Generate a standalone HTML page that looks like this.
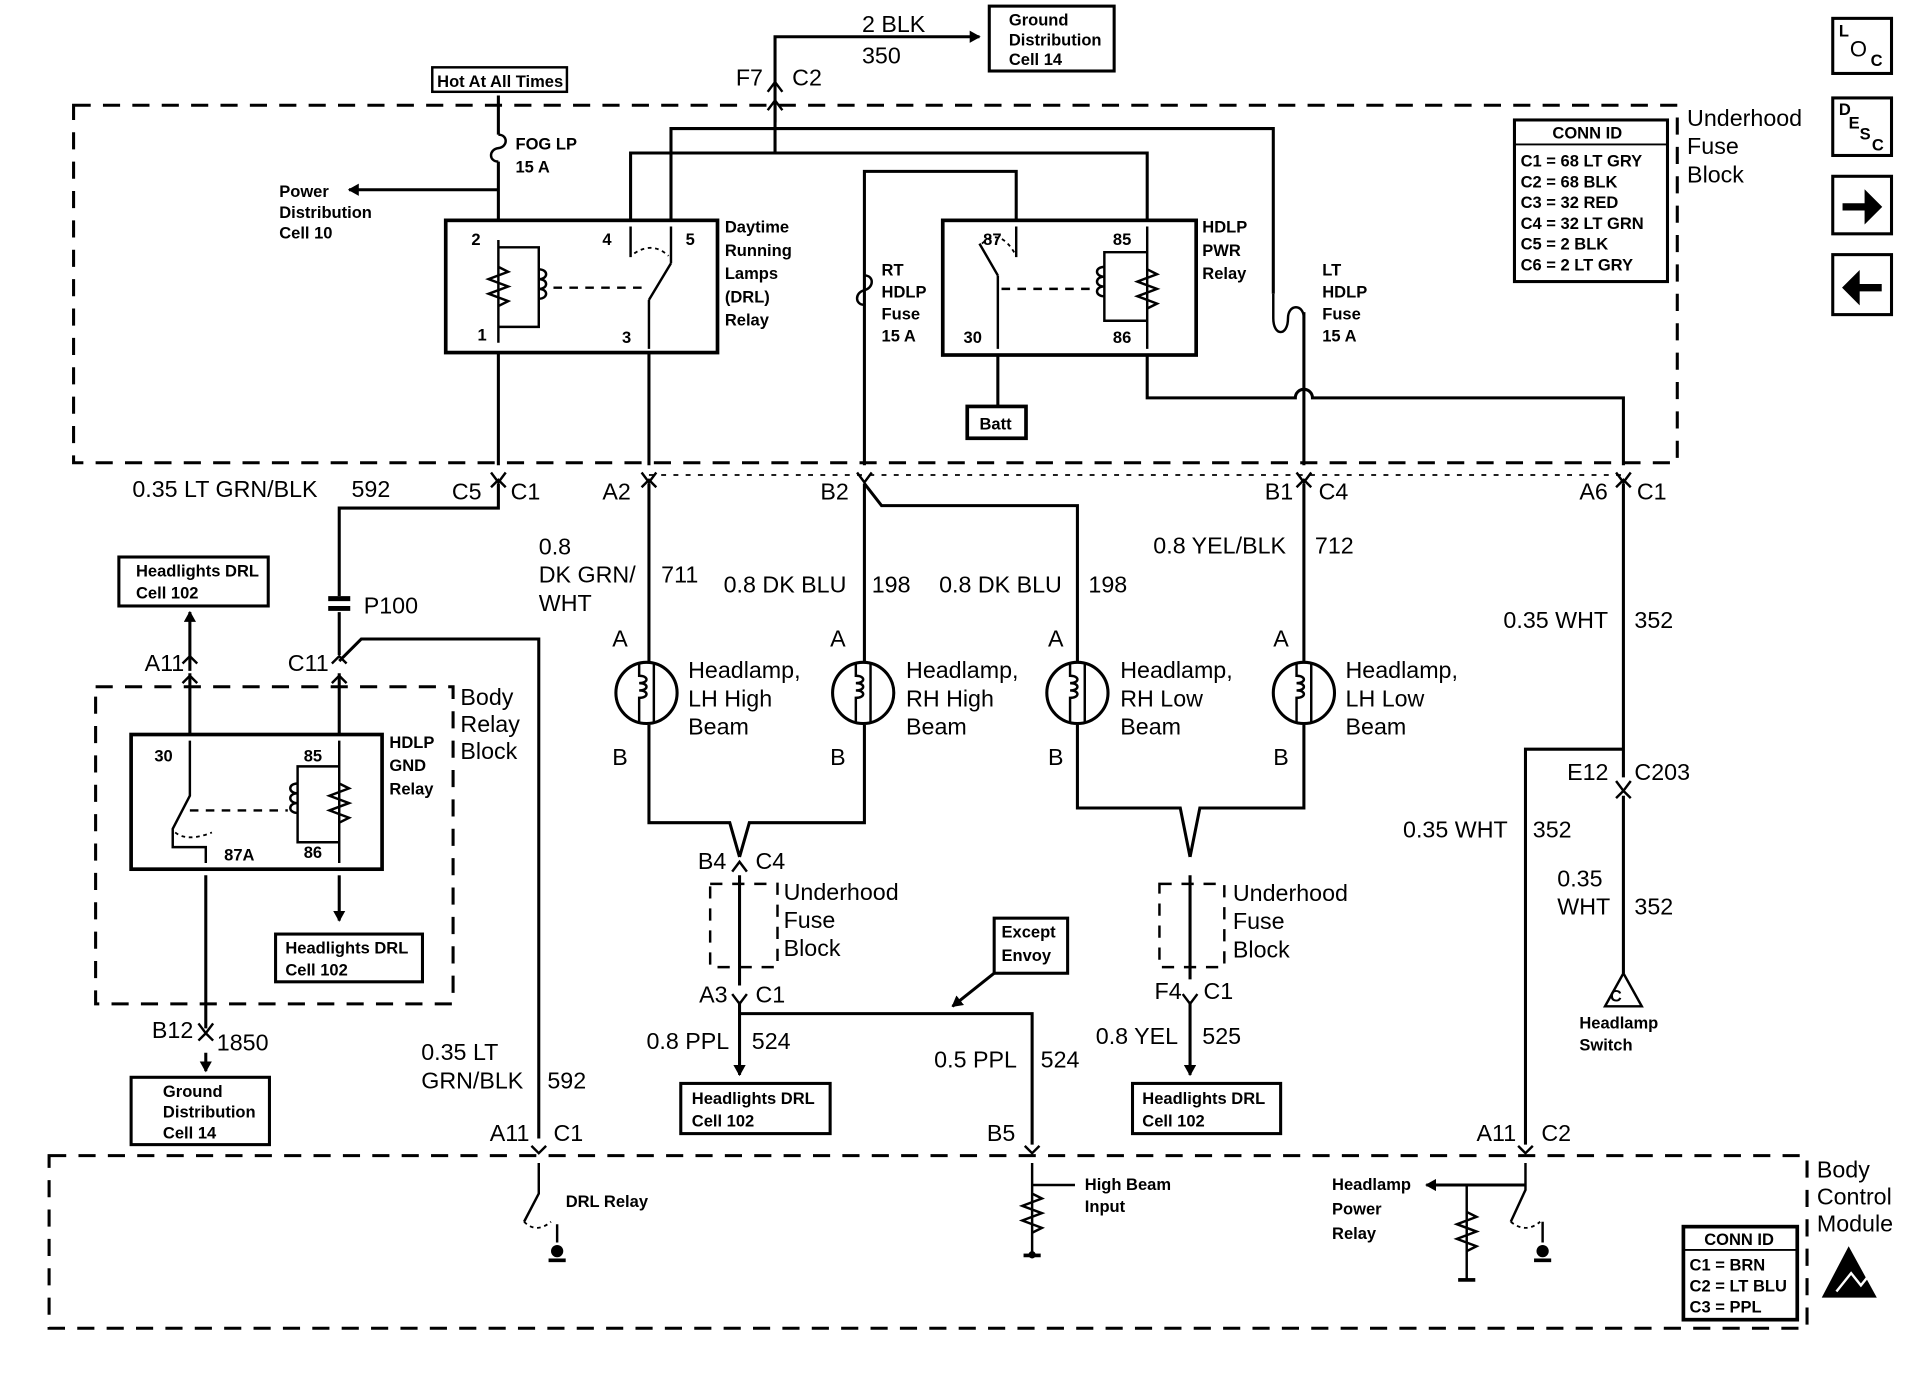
<!DOCTYPE html>
<html><head><meta charset="utf-8"><style>
html,body{margin:0;padding:0;background:#fff;}
svg{display:block;}
text{font-family:"Liberation Sans",Arial,sans-serif;fill:#000;}
.s{font-size:13.5px;font-weight:bold;}
.m{font-size:18px;}
.l{font-size:19px;}
</style></head><body>
<svg width="1910" height="1376" viewBox="0 0 1560 1124" xmlns="http://www.w3.org/2000/svg">
<defs>
<marker id="ar" markerWidth="10" markerHeight="10" refX="8" refY="5" orient="auto" markerUnits="userSpaceOnUse"><path d="M0,0 L9,5 L0,10 Z" fill="#000"/></marker>
</defs>
<g fill="none" stroke="#000" stroke-width="2.5">
<rect x="60" y="86" width="1310" height="292" stroke-dasharray="14,10"/>
<rect x="78" y="561" width="292" height="259" stroke-dasharray="14,10"/>
<rect x="40" y="944" width="1436" height="141" stroke-dasharray="14,10"/>
<rect x="580" y="722" width="55" height="68" stroke-dasharray="10,8" stroke-width="2"/>
<rect x="947" y="722" width="53" height="68" stroke-dasharray="10,8" stroke-width="2"/>
<line x1="530" y1="388" x2="1330" y2="388" stroke-dasharray="4,6" stroke-width="1.5"/>
<rect x="353" y="55" width="110" height="20" stroke-width="2"/>
<rect x="808" y="5" width="102" height="53"/>
<rect x="1237" y="98" width="125" height="132"/>
<line x1="1237" y1="118" x2="1362" y2="118" stroke-width="1.5"/>
<rect x="1497" y="15" width="48" height="45"/>
<rect x="1497" y="80" width="48" height="47"/>
<rect x="1497" y="144" width="48" height="47"/>
<rect x="1497" y="208" width="48" height="49"/>
<rect x="364" y="180" width="222" height="108" stroke-width="3"/>
<rect x="770" y="180" width="207" height="110" stroke-width="3"/>
<rect x="790" y="332" width="48" height="26" stroke-width="3"/>
<rect x="97" y="455" width="122" height="40"/>
<rect x="107" y="600" width="205" height="110" stroke-width="3"/>
<rect x="225" y="763" width="120" height="39"/>
<rect x="107" y="880" width="113" height="55"/>
<rect x="556" y="885" width="122" height="41"/>
<rect x="925" y="885" width="121" height="41"/>
<rect x="812" y="750" width="60" height="45"/>
<rect x="1375" y="1002" width="93" height="76" stroke-width="3"/>
<line x1="1375" y1="1021" x2="1468" y2="1021" stroke-width="1.5"/>
<path d="M633 100 V30 H800" marker-end="url(#ar)"/>
<path d="M633 125 V85"/>
<path d="M548 180 V105 H1040 V240"/>
<path d="M515 180 V125 H937 V180"/>
<path d="M706 380 V140 H830 V180"/>
<path d="M407 78 V110 M407 132 V180"/>
<path d="M407 110 c8,0 8,10 0,11 c-8,1 -8,11 0,11" stroke-width="2"/>
<path d="M407 155 H285" marker-end="url(#ar)"/>
<path d="M706 225 c8,0 8,10 0,12 c-8,2 -8,12 0,12" stroke-width="2"/>
<path d="M1040 240 v20 c0,15 12,15 12,0 c0,-12 13,-12 13,0" stroke-width="2"/>
<path d="M1065 255 V380"/>
<path d="M407 288 V380 M530 288 V380"/>
<path d="M815 290 V332"/>
<path d="M937 290 V325 H1058 a7,7 0 0 1 14,0 H1326 V380"/>
<path d="M407 196 V280 M407 202 H440 V267 H407" stroke-width="2"/>
<path d="M407 218 l8,4 -16,6 16,6 -16,6 16,6 -8,4" stroke-width="2"/>
<path d="M440 220 c8,0 8,8 0,8 c8,0 8,8 0,8 c8,0 8,8 0,8" stroke-width="2"/>
<path d="M452 235 H525" stroke-dasharray="7,6" stroke-width="2"/>
<path d="M515 210 V185 M548 215 V185 M530 245 L548 215 M530 245 V285" stroke-width="2"/>
<path d="M518 207 q15,-10 28,2" stroke-dasharray="3,3" stroke-width="1.5"/>
<path d="M830 210 V185 M815 225 L800 199 M815 225 V285" stroke-width="2"/>
<path d="M802 199 q15,-14 28,10" stroke-dasharray="3,3" stroke-width="1.5"/>
<path d="M937 185 V285 M937 206 H902 V262 H937" stroke-width="2"/>
<path d="M937 220 l8,4 -16,6 16,6 -16,6 16,6 -8,4" stroke-width="2"/>
<path d="M902 218 c-8,0 -8,8 0,8 c-8,0 -8,8 0,8 c-8,0 -8,8 0,8" stroke-width="2"/>
<path d="M818 236 H895" stroke-dasharray="7,6" stroke-width="2"/>
<path d="M407 395 V415 H277 V487 M277 500 V535"/>
<path d="M268 489 h18 M268 497 h18" stroke-width="4"/>
<path d="M277 540 L295 522 H440 V930"/>
<path d="M277 550 V600 M155 550 V600"/>
<path d="M155 548 V500" marker-end="url(#ar)"/>
<path d="M530 395 V540 M530 592 V672 H596 L604 700 M706 395 V540 M706 592 V672 H612 L604 700"/>
<path d="M706 395 L720 413 H880 V540 M880 592 V660 H964 L972 700 M1065 395 V540 M1065 592 V660 H980 L972 700"/>
<path d="M604 715 V805 M972 715 V800"/>
<path d="M604 818 V878" marker-end="url(#ar)"/>
<path d="M972 818 V878" marker-end="url(#ar)"/>
<path d="M604 828 H843 V935"/>
<path d="M812 795 L778 822" marker-end="url(#ar)"/>
<path d="M1326 395 V635 M1326 650 V795"/>
<path d="M1246 935 V612 H1326"/>
<path d="M1326 795 L1311 822 H1341 Z" stroke-width="2"/>
<path d="M155 605 V650 L141 677 V692 H168 V705" stroke-width="2"/>
<path d="M155 662 H235" stroke-dasharray="7,6" stroke-width="2"/>
<path d="M143 680 q10,8 30,0" stroke-dasharray="3,3" stroke-width="1.5"/>
<path d="M277 605 V705 M277 626 H243 V688 H277" stroke-width="2"/>
<path d="M277 640 l8,4 -16,6 16,6 -16,6 16,6 -8,4" stroke-width="2"/>
<path d="M243 640 c-8,0 -8,8 0,8 c-8,0 -8,8 0,8 c-8,0 -8,8 0,8" stroke-width="2"/>
<path d="M168 715 V840 M168 860 V875" marker-end="url(#ar)"/>
<path d="M277 715 V752" marker-end="url(#ar)"/>
<circle cx="528" cy="566" r="25"/><circle cx="705" cy="566" r="25"/><circle cx="880" cy="566" r="25"/><circle cx="1065" cy="566" r="25"/>
<g stroke-width="2">
<path d="M522 541 V552 c8,0 8,6 0,6 c8,0 8,6 0,6 c8,0 8,6 0,6 V591 M534 541 V591"/>
<path d="M699 541 V552 c8,0 8,6 0,6 c8,0 8,6 0,6 c8,0 8,6 0,6 V591 M711 541 V591"/>
<path d="M874 541 V552 c8,0 8,6 0,6 c8,0 8,6 0,6 c8,0 8,6 0,6 V591 M886 541 V591"/>
<path d="M1059 541 V552 c8,0 8,6 0,6 c8,0 8,6 0,6 c8,0 8,6 0,6 V591 M1071 541 V591"/>
</g>
<path d="M440 950 V975 L428 998 M455 1000 V1015" stroke-width="2"/>
<path d="M428 998 q10,10 22,0" stroke-dasharray="3,3" stroke-width="1.5"/>
<path d="M843 950 V1025 M843 968 H878" stroke-width="2"/>
<path d="M843 975 l8,4 -16,6 16,6 -16,6 16,6 -8,4" stroke-width="2"/>
<path d="M1246 950 V972 L1234 998 M1260 998 V1015 M1198 968 V1045" stroke-width="2"/>
<path d="M1246 968 H1165" marker-end="url(#ar)"/>
<path d="M1198 990 l8,4 -16,6 16,6 -16,6 16,6 -8,4" stroke-width="2"/>
<path d="M1234 998 q12,10 24,0" stroke-dasharray="3,3" stroke-width="1.5"/>
</g>
<path d="M1533 1060 H1488 L1510 1018 Z" fill="#000"/>
<path d="M1500 1055 L1512 1040 L1520 1050 L1528 1040" stroke="#fff" stroke-width="2" fill="none"/>
<g fill="none" stroke="#000" stroke-width="2">
<path d="M401 386 l6,8 6,-8 M524 386 l6,8 6,-8 M700 386 l6,8 6,-8 M1059 386 l6,8 6,-8 M1320 386 l6,8 6,-8"/>
<path d="M401 398 l6,-6 6,6 M524 398 l6,-6 6,6 M1059 398 l6,-6 6,6 M1320 398 l6,-6 6,6"/>
<path d="M627 75 l6,-8 6,8 M627 90 l6,-8 6,8"/>
<path d="M1320 638 l6,8 6,-8 M1320 652 l6,-6 6,6"/>
<path d="M598 712 l6,-8 6,8 M598 812 l6,8 6,-8 M966 812 l6,8 6,-8 M162 836 l6,8 6,-8 M162 850 l6,-6 6,6"/>
<path d="M149 542 l6,-6 6,6 M149 558 l6,-6 6,6 M271 542 l6,-6 6,6 M271 558 l6,-6 6,6"/>
<path d="M434 936 l6,6 6,-6 M837 936 l6,6 6,-6 M1240 936 l6,6 6,-6"/>
<path d="M1506 167 h18 v-10 l12 12 -12 12 v-10 h-18 z" fill="#000"/>
<path d="M1536 233 h-18 v-10 l-12 12 12 12 v-10 h18 z" fill="#000"/>
</g>
<g fill="#000">
<circle cx="455" cy="1022" r="5"/><circle cx="1260" cy="1022" r="5"/><circle cx="843" cy="1025" r="3"/>
<rect x="448" y="1028" width="14" height="3"/><rect x="1253" y="1028" width="14" height="3"/><rect x="836" y="1024" width="14" height="3"/><rect x="1191" y="1044" width="14" height="3"/>
</g>
<text class="s" x="357" y="71">Hot At All Times</text>
<text class="l" x="704" y="26">2 BLK</text>
<text class="l" x="704" y="52">350</text>
<text class="s" x="824" y="21">Ground</text><text class="s" x="824" y="37">Distribution</text><text class="s" x="824" y="53">Cell 14</text>
<text class="l" x="601" y="70">F7</text><text class="l" x="647" y="70">C2</text>
<text class="s" x="421" y="122">FOG LP</text><text class="s" x="421" y="141">15 A</text>
<text class="s" x="228" y="161">Power</text><text class="s" x="228" y="178">Distribution</text><text class="s" x="228" y="195">Cell 10</text>
<text class="s" x="385" y="200">2</text><text class="s" x="390" y="278">1</text><text class="s" x="492" y="200">4</text><text class="s" x="560" y="200">5</text><text class="s" x="508" y="280">3</text>
<text class="s" x="592" y="190">Daytime</text><text class="s" x="592" y="209">Running</text><text class="s" x="592" y="228">Lamps</text><text class="s" x="592" y="247">(DRL)</text><text class="s" x="592" y="266">Relay</text>
<text class="s" x="720" y="225">RT</text><text class="s" x="720" y="243">HDLP</text><text class="s" x="720" y="261">Fuse</text><text class="s" x="720" y="279">15 A</text>
<text class="s" x="803" y="200">87</text><text class="s" x="909" y="200">85</text><text class="s" x="787" y="280">30</text><text class="s" x="909" y="280">86</text>
<text class="s" x="982" y="190">HDLP</text><text class="s" x="982" y="209">PWR</text><text class="s" x="982" y="228">Relay</text>
<text class="s" x="800" y="351">Batt</text>
<text class="s" x="1080" y="225">LT</text><text class="s" x="1080" y="243">HDLP</text><text class="s" x="1080" y="261">Fuse</text><text class="s" x="1080" y="279">15 A</text>
<text class="s" x="1268" y="113">CONN ID</text>
<text class="s" x="1242" y="136">C1 = 68 LT GRY</text><text class="s" x="1242" y="153">C2 = 68 BLK</text><text class="s" x="1242" y="170">C3 = 32 RED</text><text class="s" x="1242" y="187">C4 = 32 LT GRN</text><text class="s" x="1242" y="204">C5 = 2 BLK</text><text class="s" x="1242" y="221">C6 = 2 LT GRY</text>
<text class="l" x="1378" y="103">Underhood</text><text class="l" x="1378" y="126">Fuse</text><text class="l" x="1378" y="149">Block</text>
<text class="s" x="1502" y="30">L</text><text class="m" x="1511" y="46">O</text><text class="s" x="1528" y="54">C</text>
<text class="s" x="1502" y="94">D</text><text class="s" x="1510" y="105">E</text><text class="s" x="1519" y="114">S</text><text class="s" x="1529" y="123">C</text>
<text class="l" x="108" y="406">0.35 LT GRN/BLK</text><text class="l" x="287" y="406">592</text>
<text class="l" x="369" y="408">C5</text><text class="l" x="417" y="408">C1</text>
<text class="l" x="492" y="408">A2</text><text class="l" x="670" y="408">B2</text><text class="l" x="1033" y="408">B1</text><text class="l" x="1077" y="408">C4</text><text class="l" x="1290" y="408">A6</text><text class="l" x="1337" y="408">C1</text>
<text class="l" x="440" y="453">0.8</text><text class="l" x="440" y="476">DK GRN/</text><text class="l" x="440" y="499">WHT</text><text class="l" x="540" y="476">711</text>
<text class="l" x="591" y="484">0.8 DK BLU</text><text class="l" x="712" y="484">198</text>
<text class="l" x="767" y="484">0.8 DK BLU</text><text class="l" x="889" y="484">198</text>
<text class="l" x="942" y="452">0.8 YEL/BLK</text><text class="l" x="1074" y="452">712</text>
<text class="l" x="1228" y="513">0.35 WHT</text><text class="l" x="1335" y="513">352</text>
<text class="s" x="111" y="471">Headlights DRL</text><text class="s" x="111" y="489">Cell 102</text>
<text class="l" x="297" y="501">P100</text>
<text class="l" x="118" y="548">A11</text><text class="l" x="235" y="548">C11</text>
<text class="l" x="376" y="576">Body</text><text class="l" x="376" y="598">Relay</text><text class="l" x="376" y="620">Block</text>
<text class="s" x="318" y="611">HDLP</text><text class="s" x="318" y="630">GND</text><text class="s" x="318" y="649">Relay</text>
<text class="s" x="126" y="622">30</text><text class="s" x="248" y="622">85</text><text class="s" x="183" y="703">87A</text><text class="s" x="248" y="701">86</text>
<text class="l" x="500" y="528">A</text><text class="l" x="500" y="625">B</text><text class="l" x="678" y="528">A</text><text class="l" x="678" y="625">B</text>
<text class="l" x="856" y="528">A</text><text class="l" x="856" y="625">B</text><text class="l" x="1040" y="528">A</text><text class="l" x="1040" y="625">B</text>
<text class="l" x="562" y="554">Headlamp,</text><text class="l" x="562" y="577">LH High</text><text class="l" x="562" y="600">Beam</text>
<text class="l" x="740" y="554">Headlamp,</text><text class="l" x="740" y="577">RH High</text><text class="l" x="740" y="600">Beam</text>
<text class="l" x="915" y="554">Headlamp,</text><text class="l" x="915" y="577">RH Low</text><text class="l" x="915" y="600">Beam</text>
<text class="l" x="1099" y="554">Headlamp,</text><text class="l" x="1099" y="577">LH Low</text><text class="l" x="1099" y="600">Beam</text>
<text class="l" x="1280" y="637">E12</text><text class="l" x="1335" y="637">C203</text>
<text class="l" x="1146" y="684">0.35 WHT</text><text class="l" x="1252" y="684">352</text>
<text class="l" x="1272" y="724">0.35</text><text class="l" x="1272" y="747">WHT</text><text class="l" x="1335" y="747">352</text>
<text class="l" x="570" y="710">B4</text><text class="l" x="617" y="710">C4</text>
<text class="l" x="640" y="735">Underhood</text><text class="l" x="640" y="758">Fuse</text><text class="l" x="640" y="781">Block</text>
<text class="l" x="1007" y="736">Underhood</text><text class="l" x="1007" y="759">Fuse</text><text class="l" x="1007" y="782">Block</text>
<text class="s" x="818" y="766">Except</text><text class="s" x="818" y="785">Envoy</text>
<text class="l" x="571" y="819">A3</text><text class="l" x="617" y="819">C1</text>
<text class="l" x="943" y="816">F4</text><text class="l" x="983" y="816">C1</text>
<text class="s" x="233" y="779">Headlights DRL</text><text class="s" x="233" y="797">Cell 102</text>
<text class="s" x="1315" y="818">C</text>
<text class="s" x="1290" y="840">Headlamp</text><text class="s" x="1290" y="858">Switch</text>
<text class="l" x="124" y="848">B12</text><text class="l" x="177" y="858">1850</text>
<text class="l" x="528" y="857">0.8 PPL</text><text class="l" x="614" y="857">524</text>
<text class="l" x="763" y="872">0.5 PPL</text><text class="l" x="850" y="872">524</text>
<text class="l" x="895" y="853">0.8 YEL</text><text class="l" x="982" y="853">525</text>
<text class="l" x="344" y="866">0.35 LT</text><text class="l" x="344" y="889">GRN/BLK</text><text class="l" x="447" y="889">592</text>
<text class="s" x="133" y="896">Ground</text><text class="s" x="133" y="913">Distribution</text><text class="s" x="133" y="930">Cell 14</text>
<text class="s" x="565" y="902">Headlights DRL</text><text class="s" x="565" y="920">Cell 102</text>
<text class="s" x="933" y="902">Headlights DRL</text><text class="s" x="933" y="920">Cell 102</text>
<text class="l" x="400" y="932">A11</text><text class="l" x="452" y="932">C1</text>
<text class="l" x="806" y="932">B5</text>
<text class="l" x="1206" y="932">A11</text><text class="l" x="1259" y="932">C2</text>
<text class="l" x="1484" y="962">Body</text><text class="l" x="1484" y="984">Control</text><text class="l" x="1484" y="1006">Module</text>
<text class="s" x="462" y="986">DRL Relay</text>
<text class="s" x="886" y="972">High Beam</text><text class="s" x="886" y="990">Input</text>
<text class="s" x="1088" y="972">Headlamp</text><text class="s" x="1088" y="992">Power</text><text class="s" x="1088" y="1012">Relay</text>
<text class="s" x="1392" y="1017">CONN ID</text>
<text class="s" x="1380" y="1038">C1 = BRN</text><text class="s" x="1380" y="1055">C2 = LT BLU</text><text class="s" x="1380" y="1072">C3 = PPL</text>
</svg>
</body></html>
